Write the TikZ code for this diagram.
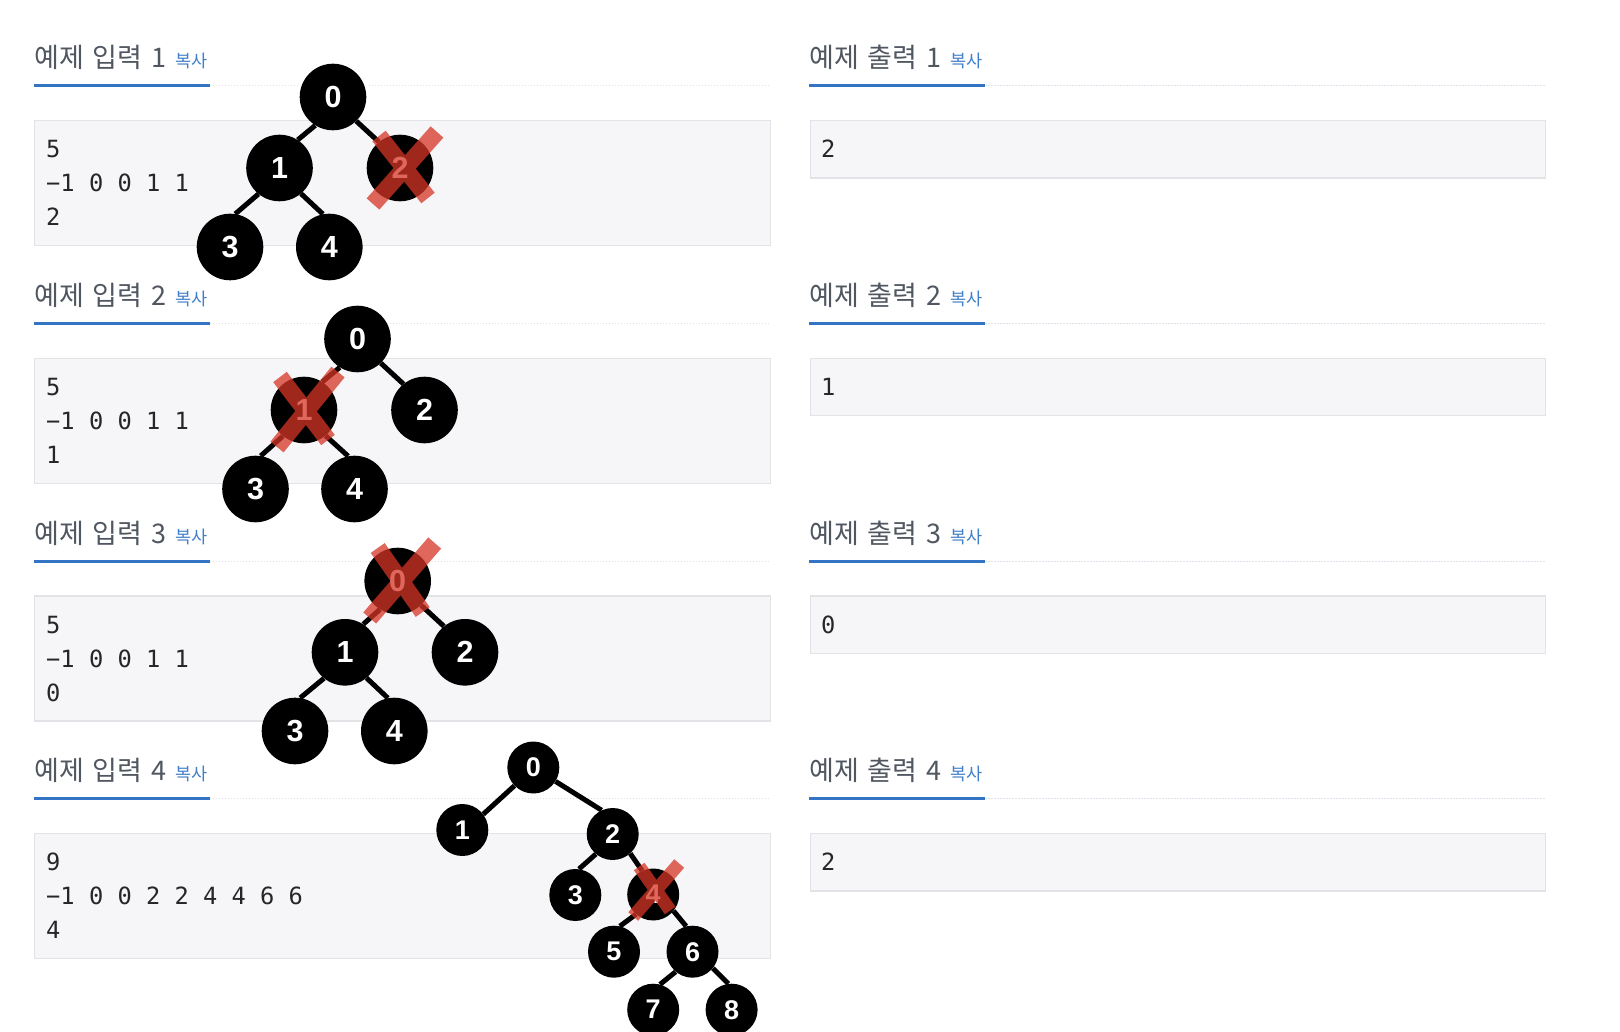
\documentclass[tikz,border=0pt]{standalone}
\usepackage{fontspec}
\setmainfont{Liberation Sans}
\newfontfamily\krfont{Noto Sans CJK KR}
\newfontfamily\codefont{DejaVu Sans Mono}
\definecolor{headc}{RGB}{80,87,97}
\definecolor{copyc}{RGB}{66,128,202}
\definecolor{ulc}{RGB}{52,116,196}
\definecolor{boxfill}{RGB}{246,246,248}
\definecolor{boxdraw}{RGB}{226,227,231}
\definecolor{dotc}{RGB}{222,226,234}
\definecolor{codec}{RGB}{38,38,40}
\definecolor{xred}{RGB}{213,53,37}
\tikzset{
  head/.style={inner sep=0, anchor=base west, text=headc, font=\krfont\fontsize{27}{27}\selectfont},
  copy/.style={inner sep=0, anchor=base west, text=copyc, font=\krfont\fontsize{17.5}{17.5}\selectfont},
  ul/.style={ulc, line width=3},
  dotline/.style={dotc, line width=1, dash pattern=on 1.5 off 1.5},
  codebox/.style={draw=boxdraw, fill=boxfill, line width=1.3, anchor=north west, inner sep=0},
  code/.style={inner sep=0, anchor=base west, text=codec, font=\codefont\fontsize{23.7}{23.7}\selectfont},
  tn/.style={circle, fill=black, minimum size=66.6, inner sep=0, text=white, font=\fontsize{30.5}{30.5}\selectfont\bfseries},
  tns/.style={circle, fill=black, minimum size=52, inner sep=0, text=white, font=\fontsize{27}{27}\selectfont\bfseries},
  edge/.style={line width=5, black},
  xstroke/.style={line width=17, xred},
  xstrokes/.style={line width=13, xred},
}
\begin{document}
\begin{tikzpicture}[x=1pt,y=-1pt]
\useasboundingbox (0,0) rectangle (1620,1032);
\fill[white] (0,0) rectangle (1620,1032);
% section frames
\foreach \i/\dy/\out in {1/0/2,2/237.6/1,3/475.2/0,4/712.8/2}{
  \node[head] (hin\i) at (34,68+\dy) {예제 \kern3pt 입력 \kern3pt \i};
  \node[copy] (cin\i) at (175.5,68+\dy) {복사};
  \draw[ul] (34,86+\dy) -- (209.5,86+\dy);
  \draw[dotline] (209.5,86+\dy) -- (770,86+\dy);
  \node[codebox, minimum width=736, minimum height=125] (bin\i) at (34,120+\dy) {};
  \node[head] (hout\i) at (809,68+\dy) {예제 \kern3pt 출력 \kern3pt \i};
  \node[copy] (cout\i) at (950.5,68+\dy) {복사};
  \draw[ul] (809,86+\dy) -- (985,86+\dy);
  \draw[dotline] (985,86+\dy) -- (1545,86+\dy);
  \node[codebox, minimum width=735, minimum height=57.5] (bout\i) at (810,120+\dy) {};
  \node[code] (oout\i) at (821,158+\dy) {\out};
}
% input texts
\node[code] (t1a) at (46,158) {5};
\node[code] (t1b) at (46,192) {−1 0 0 1 1};
\node[code] (t1c) at (46,226) {2};
\node[code] (t2a) at (46,395.6) {5};
\node[code] (t2b) at (46,429.6) {−1 0 0 1 1};
\node[code] (t2c) at (46,463.6) {1};
\node[code] (t3a) at (46,633.2) {5};
\node[code] (t3b) at (46,667.2) {−1 0 0 1 1};
\node[code] (t3c) at (46,701.2) {0};
\node[code] (t4a) at (46,870.8) {9};
\node[code] (t4b) at (46,904.8) {−1 0 0 2 2 4 4 6 6};
\node[code] (t4c) at (46,938.8) {4};
% tree 1
\node[tn] (a0) at (333,97) {0};
\node[tn] (a1) at (279.5,168) {1};
\node[tn] (a2) at (400,168) {2};
\node[tn] (a3) at (230,247) {3};
\node[tn] (a4) at (329.3,247) {4};
\draw[edge] (a0.238) -- (a1.57); \draw[edge] (a0.314) -- (a2.129);
\draw[edge] (a1.231) -- (a3.81); \draw[edge] (a1.310) -- (a4.101);
% tree 2
\node[tn] (b0) at (357.5,339) {0};
\node[tn] (b1) at (304,410) {1};
\node[tn] (b2) at (424.5,410) {2};
\node[tn] (b3) at (255.5,489) {3};
\node[tn] (b4) at (354.5,489) {4};
\draw[edge] (b0.238) -- (b1.57); \draw[edge] (b0.314) -- (b2.129);
\draw[edge] (b1.231) -- (b3.81); \draw[edge] (b1.310) -- (b4.101);
% tree 3
\node[tn] (c0) at (397.7,581) {0};
\node[tn] (c1) at (345,652.3) {1};
\node[tn] (c2) at (465,652.3) {2};
\node[tn] (c3) at (295,731) {3};
\node[tn] (c4) at (394.3,731) {4};
\draw[edge] (c0.238) -- (c1.57); \draw[edge] (c0.314) -- (c2.129);
\draw[edge] (c1.231) -- (c3.81); \draw[edge] (c1.310) -- (c4.101);
% tree 4
\node[tns] (d0) at (533.3,767.5) {0};
\node[tns] (d1) at (462.3,830) {1};
\node[tns] (d2) at (612.7,834) {2};
\node[tns] (d3) at (575.3,895) {3};
\node[tns] (d4) at (653.2,894.5) {4};
\node[tns] (d5) at (614,951.7) {5};
\node[tns] (d6) at (692.5,951.7) {6};
\node[tns] (d7) at (653.2,1009.7) {7};
\node[tns] (d8) at (731.6,1009.7) {8};
\draw[edge] (d0.224) -- (d1.37); \draw[edge] (d0.328) -- (d2.115);
\draw[edge] (d2.230) -- (d3.82); \draw[edge] (d2.312) -- (d4.115);
\draw[edge] (d4.229) -- (d5.77); \draw[edge] (d4.321) -- (d6.104);
\draw[edge] (d6.230) -- (d7.75); \draw[edge] (d6.321) -- (d8.97);
% crosses
\begin{scope}[transparency group, opacity=0.75]
  \draw[xstroke] ([shift={(-27,36)}]a2.center) -- ([shift={(37,-36)}]a2.center);
  \draw[xstroke] ([shift={(-21,-32)}]a2.center) -- ([shift={(28,30)}]a2.center);
\end{scope}
\begin{scope}[transparency group, opacity=0.75]
  \draw[xstroke] ([shift={(-27,37)}]b1.center) -- ([shift={(34,-38)}]b1.center);
  \draw[xstroke] ([shift={(-24,-33)}]b1.center) -- ([shift={(24,30)}]b1.center);
\end{scope}
\begin{scope}[transparency group, opacity=0.75]
  \draw[xstroke] ([shift={(-28,37)}]c0.center) -- ([shift={(37,-38)}]c0.center);
  \draw[xstroke] ([shift={(-20,-33)}]c0.center) -- ([shift={(25,31)}]c0.center);
\end{scope}
\begin{scope}[transparency group, opacity=0.75]
  \draw[xstrokes] ([shift={(-20,22)}]d4.center) -- ([shift={(26,-31)}]d4.center);
  \draw[xstrokes] ([shift={(-14,-28)}]d4.center) -- ([shift={(17,16)}]d4.center);
\end{scope}
\end{tikzpicture}
\end{document}
